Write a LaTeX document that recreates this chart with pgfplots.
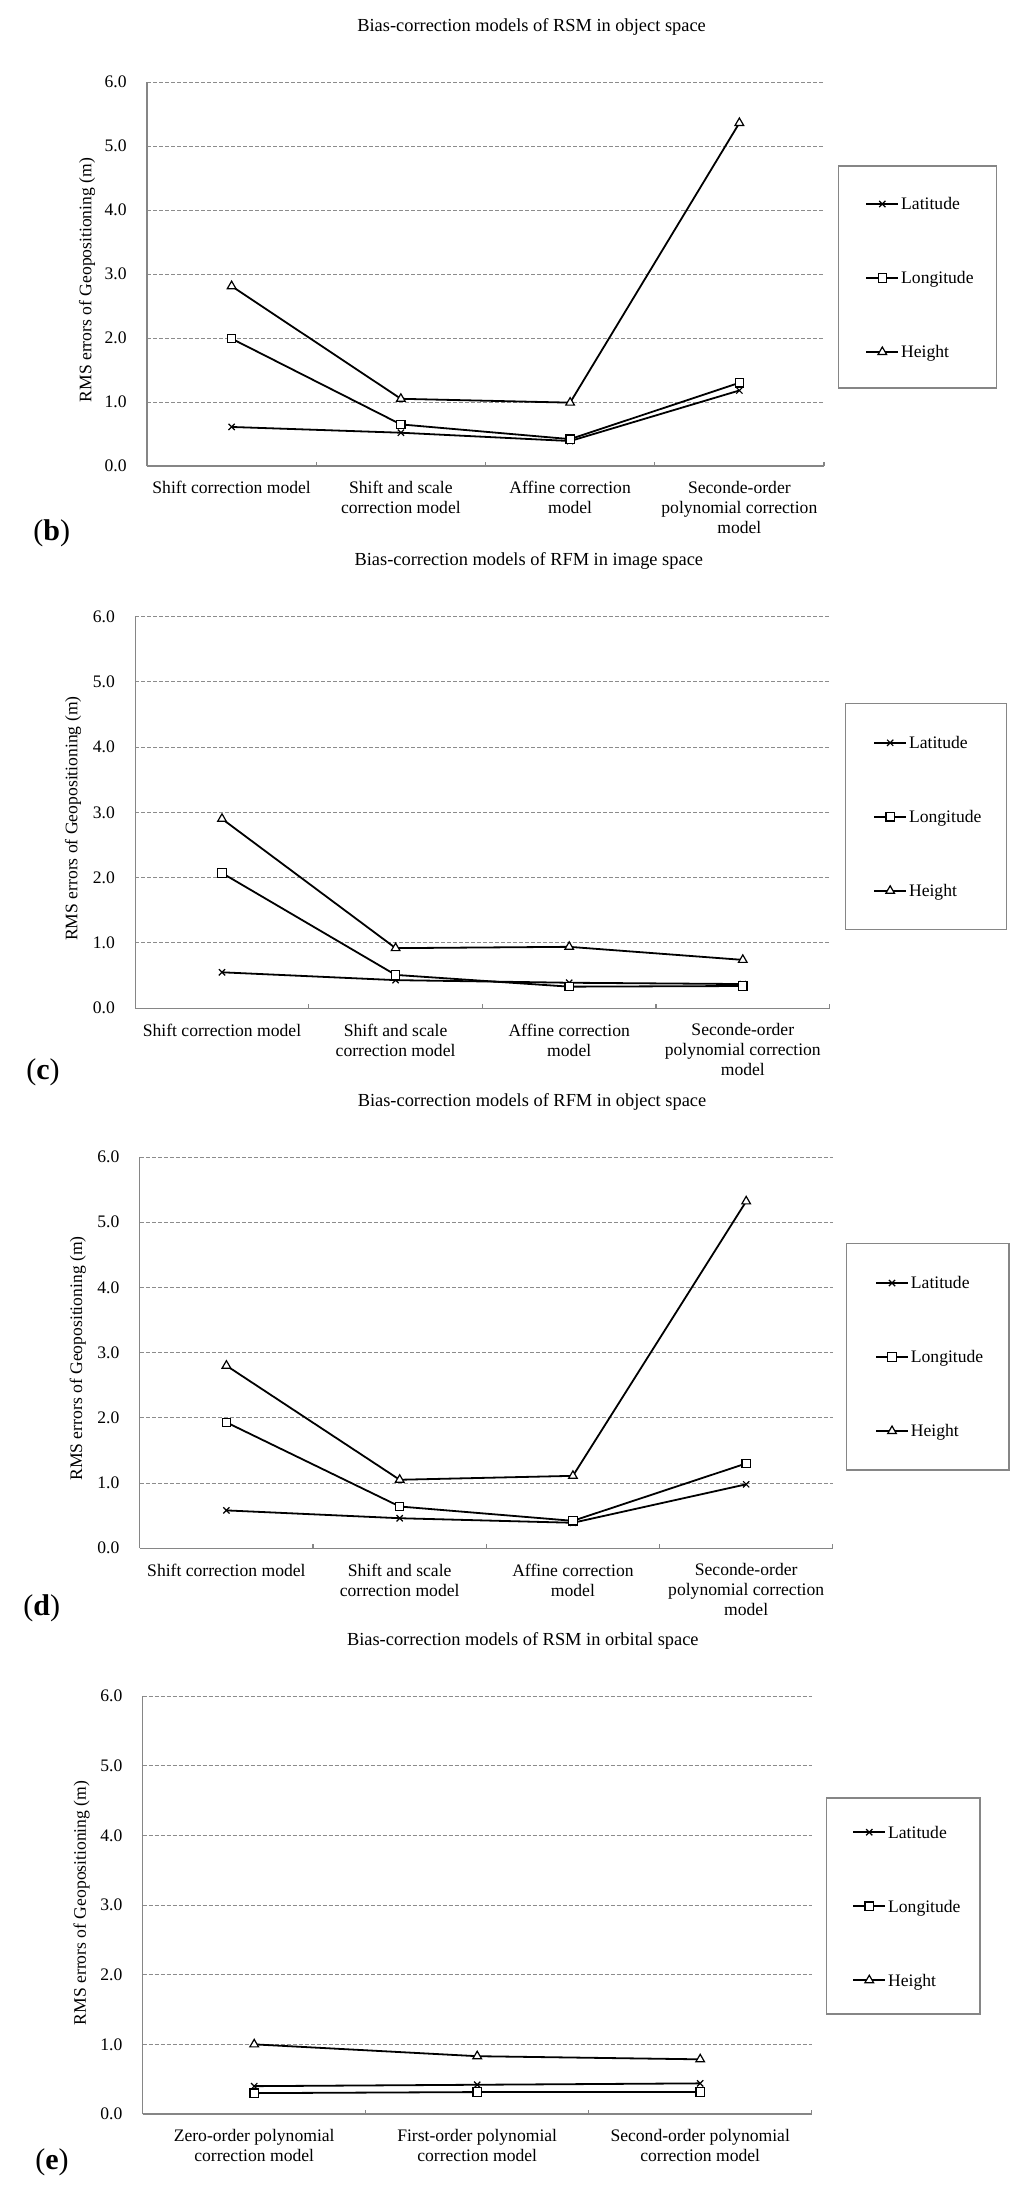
\documentclass[border=0pt]{standalone}
\usepackage{fontspec}
\setmainfont{Liberation Serif}
\usepackage{pgfplots}
\pgfplotsset{compat=1.18}
\definecolor{axisgray}{HTML}{868686}
\definecolor{gridgray}{HTML}{8C8C8C}
\pgfplotsset{
  panel/.style={
    scale only axis,
    ymin=0, ymax=6, ytick={0,1,2,3,4,5,6},
    axis x line*=bottom, axis y line*=left,
    axis line style={draw=axisgray, line width=0.6pt},
    ymajorgrids,
    major grid style={draw=gridgray, dash pattern=on 2pt off 1pt, line width=0.5pt},
    major tick length=0pt,
    tick style={draw=axisgray, line width=0.6pt},
    /pgf/number format/assume math mode=true,
    yticklabel style={/pgf/number format/fixed, /pgf/number format/fixed zerofill, /pgf/number format/precision=1, anchor=east, inner sep=0pt, xshift=-10pt},
    xticklabel style={align=center, anchor=north, inner sep=0pt, yshift=-7.5pt},
    extra x tick style={major tick length=2.25pt, grid=none},
    extra x tick labels={},
    ylabel={RMS errors of Geopositioning (m)},
    legend cell align=left,
    legend style={draw=none, fill=none, inner sep=0pt, anchor=west, nodes={inner sep=0pt, text height=6pt, text depth=2pt}, row sep=29pt, column sep=1pt},
    legend image code/.code={\draw[mark repeat=2, mark phase=2, ##1] plot coordinates {(0pt,0.9pt)(8pt,0.9pt)(16pt,0.9pt)};},
  },
  lat/.style={black, line width=0.9pt, mark=x, mark size=2.2pt, mark options={line width=0.6pt, solid}},
  lon/.style={black, line width=0.9pt, mark=square*, mark size=2.1pt, mark options={line width=0.6pt, fill=white, solid}},
  hgt/.style={black, line width=0.9pt, mark=triangle*, mark size=2.5pt, mark options={line width=0.6pt, fill=white, solid}},
}
\begin{document}
\fontsize{8.8}{10}\selectfont
\begin{tikzpicture}
\useasboundingbox (0,0) rectangle (512pt,-1097pt);
% titles
\begin{scope}[font=\fontsize{9.2}{11}\selectfont]
\node[anchor=base] at (265.8pt,-16pt) {Bias-correction models of RSM in object space};
\node[anchor=base] at (264.4pt,-282.5pt) {Bias-correction models of RFM in image space};
\node[anchor=base] at (266pt,-553.3pt) {Bias-correction models of RFM in object space};
\node[anchor=base] at (261.4pt,-822.5pt) {Bias-correction models of RSM in orbital space};
\end{scope}
% panel labels
\node[anchor=west, inner sep=0pt, font=\fontsize{15}{18}\selectfont] at (16.5pt,-266.5pt) {(\textbf{b})};
\node[anchor=west, inner sep=0pt, font=\fontsize{15}{18}\selectfont] at (13pt,-536pt) {(\textbf{c})};
\node[anchor=west, inner sep=0pt, font=\fontsize{15}{18}\selectfont] at (11.5pt,-804.3pt) {(\textbf{d})};
\node[anchor=west, inner sep=0pt, font=\fontsize{15}{18}\selectfont] at (17.5pt,-1080.9pt) {(\textbf{e})};

% (b)
\begin{axis}[panel, at={(73.5pt,-233pt)}, anchor=south west, width=338.5pt, height=192pt,
  xmin=0.5, xmax=4.5, xtick={1,2,3,4},
  xticklabels={{Shift correction model},{Shift and scale\\correction model},{Affine correction\\model},{Seconde-order\\polynomial correction\\model}},
  extra x ticks={1.5,2.5,3.5,4.5},
  ylabel style={at={(axis description cs:-0.0886,0.484)}, anchor=center},
  legend style={at={(axis description cs:1.0606,0.4849)}}]
\addplot[lat] coordinates {(1,0.61)(2,0.52)(3,0.39)(4,1.18)};
\addplot[lon] coordinates {(1,1.99)(2,0.65)(3,0.42)(4,1.30)};
\addplot[hgt] coordinates {(1,2.81)(2,1.05)(3,0.99)(4,5.36)};
\legend{Latitude,Longitude,Height}
\end{axis}
\draw[axisgray, line width=0.6pt] (419.2pt,-83pt) rectangle (498.4pt,-194pt);

% (c)
\begin{axis}[panel, at={(67.6pt,-504.1pt)}, anchor=south west, width=347.2pt, height=195.9pt,
  xmin=0.5, xmax=4.5, xtick={1,2,3,4},
  xticklabels={{Shift correction model},{Shift and scale\\correction model},{Affine correction\\model},{Seconde-order\\polynomial correction\\model}},
  extra x ticks={1.5,2.5,3.5,4.5},
  ylabel style={at={(axis description cs:-0.0893,0.484)}, anchor=center},
  legend style={at={(axis description cs:1.0623,0.4839)}}]
\addplot[lat] coordinates {(1,0.55)(2,0.43)(3,0.39)(4,0.37)};
\addplot[lon] coordinates {(1,2.07)(2,0.51)(3,0.33)(4,0.34)};
\addplot[hgt] coordinates {(1,2.90)(2,0.92)(3,0.94)(4,0.74)};
\legend{Latitude,Longitude,Height}
\end{axis}
\draw[axisgray, line width=0.6pt] (422.7pt,-351.6pt) rectangle (503.3pt,-464.7pt);

% (d)
\begin{axis}[panel, at={(69.9pt,-774.1pt)}, anchor=south west, width=346.5pt, height=195.6pt,
  xmin=0.5, xmax=4.5, xtick={1,2,3,4},
  xticklabels={{Shift correction model},{Shift and scale\\correction model},{Affine correction\\model},{Seconde-order\\polynomial correction\\model}},
  extra x ticks={1.5,2.5,3.5,4.5},
  ylabel style={at={(axis description cs:-0.0895,0.485)}, anchor=center},
  legend style={at={(axis description cs:1.0605,0.4841)}}]
\addplot[lat] coordinates {(1,0.58)(2,0.46)(3,0.39)(4,0.98)};
\addplot[lon] coordinates {(1,1.93)(2,0.64)(3,0.42)(4,1.30)};
\addplot[hgt] coordinates {(1,2.80)(2,1.05)(3,1.11)(4,5.32)};
\legend{Latitude,Longitude,Height}
\end{axis}
\draw[axisgray, line width=0.6pt] (423.3pt,-621.8pt) rectangle (504.5pt,-735pt);

% (e)
\begin{axis}[panel, at={(71.35pt,-1057pt)}, anchor=south west, width=334.5pt, height=209pt,
  xmin=0.5, xmax=3.5, xtick={1,2,3},
  xticklabels={{Zero-order polynomial\\correction model},{First-order polynomial\\correction model},{Second-order polynomial\\correction model}},
  extra x ticks={1.5,2.5,3.5},
  ylabel style={at={(axis description cs:-0.0912,0.505)}, anchor=center},
  legend style={at={(axis description cs:1.0602,0.4928)}}]
\addplot[lat] coordinates {(1,0.40)(2,0.42)(3,0.44)};
\addplot[lon] coordinates {(1,0.30)(2,0.315)(3,0.315)};
\addplot[hgt] coordinates {(1,1.00)(2,0.83)(3,0.785)};
\legend{Latitude,Longitude,Height}
\end{axis}
\draw[axisgray, line width=0.6pt] (413.4pt,-899pt) rectangle (490pt,-1007pt);
\end{tikzpicture}
\end{document}
